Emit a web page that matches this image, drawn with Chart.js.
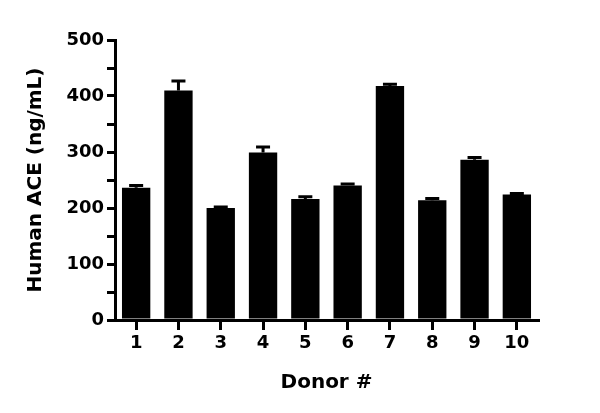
<!DOCTYPE html>
<html>
<head>
<meta charset="utf-8">
<script src="https://cdn.jsdelivr.net/npm/chart.js@4"></script>
<style>
  html, body { margin: 0; padding: 0; background: #fff; }
  #wrap { width: 600px; height: 413px; }
</style>
</head>
<body>
<div id="wrap"><canvas id="aceChart" width="600" height="413"></canvas></div>
<script>
// Daten
const donoren = ['1', '2', '3', '4', '5', '6', '7', '8', '9', '10'];
const aceWerte = [236, 410, 200, 299, 216, 240, 418, 214, 286, 224];
const aceFehler = [4, 17, 2, 10, 4, 3, 3, 3, 4, 2];
const yTicks = [0, 100, 200, 300, 400, 500];

const schrift = '"DejaVu Sans", sans-serif';

// Fehlerbalken (nur nach oben, mit Kappe)
const fehlerBalken = {
  id: 'fehlerBalken',
  afterDatasetsDraw(chart) {
    const ctx = chart.ctx;
    const y = chart.scales.y;
    const meta = chart.getDatasetMeta(0);
    ctx.save();
    ctx.strokeStyle = '#000';
    ctx.lineWidth = 3;
    meta.data.forEach((bar, i) => {
      const oben = y.getPixelForValue(aceWerte[i] + aceFehler[i]);
      ctx.beginPath();
      ctx.moveTo(bar.x, bar.y);
      ctx.lineTo(bar.x, oben);
      ctx.moveTo(bar.x - 7, oben);
      ctx.lineTo(bar.x + 7, oben);
      ctx.stroke();
    });
    ctx.restore();
  }
};

const ctx = document.getElementById('aceChart').getContext('2d');
new Chart(ctx, {
  type: 'bar',
  data: {
    labels: donoren,
    datasets: [{
      data: aceWerte,
      backgroundColor: '#000',
      borderWidth: 0,
      barPercentage: 0.67,
      categoryPercentage: 1
    }]
  },
  plugins: [fehlerBalken],
  options: {
    responsive: false,
    animation: false,
    layout: { padding: { left: 20, right: 62, top: 40, bottom: 14 } },
    plugins: {
      legend: { display: false },
      tooltip: { enabled: false }
    },
    scales: {
      x: {
        offset: true,
        border: { color: '#000', width: 3 },
        grid: { offset: false, drawOnChartArea: false, color: '#000', lineWidth: 3, tickLength: 10 },
        ticks: { color: '#000', font: { family: schrift, size: 18, weight: 'bold' }, padding: 3 },
        title: {
          display: true,
          text: 'Donor #',
          color: '#000',
          font: { family: schrift, size: 20, weight: 'bold' },
          padding: { top: 13 }
        },
        afterFit(scale) { scale.height = 79; }
      },
      y: {
        min: 0,
        max: 500,
        border: { color: '#000', width: 3 },
        grid: { drawOnChartArea: false, color: '#000', lineWidth: 3, tickLength: 8 },
        ticks: {
          stepSize: 50,
          color: '#000',
          font: { family: schrift, size: 18, weight: 'bold' },
          padding: 3,
          callback: v => yTicks.includes(v) ? v : ''
        },
        title: {
          display: true,
          text: 'Human ACE (ng/mL)',
          color: '#000',
          font: { family: schrift, size: 20, weight: 'bold' },
          padding: { bottom: 4 }
        },
        afterFit(scale) { scale.width = 95; }
      }
    }
  }
});
</script>
</body>
</html>
